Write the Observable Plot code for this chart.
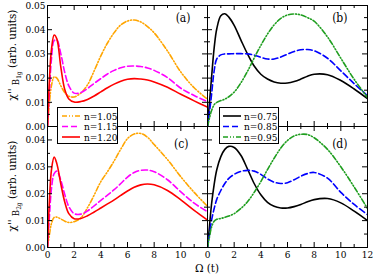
<!DOCTYPE html>
<html><head><meta charset="utf-8">
<script src="https://cdn.jsdelivr.net/npm/d3@7"></script>
<script src="https://cdn.jsdelivr.net/npm/@observablehq/plot@0.6"></script>
<style>
body{margin:0;background:#fff;}
#chart{position:relative;width:374px;height:274px;overflow:hidden;background:#fff;}
#chart svg{position:absolute;left:0;top:0;}
#chart svg text{font-stretch:condensed;}
</style></head><body><div id="chart"></div>
<script>
// ---- data ----
const omega = [0,0.15,0.3,0.5,0.7,1,1.3,1.6,2,2.5,3,3.5,4,4.5,5,5.5,6,6.5,7,7.5,8,9,10,11,12];

// B1g, panel (a)
const b1g_n105 = [0,0.010,0.017,0.0205,0.0200,0.0168,0.0140,0.0125,0.0122,0.0138,0.0172,0.0230,0.0292,0.0345,0.0388,0.0420,0.0436,0.0440,0.0432,0.0413,0.0387,0.0312,0.0225,0.0160,0.0113];
const b1g_n115 = [0,0.015,0.028,0.0355,0.0358,0.0300,0.0222,0.0168,0.0138,0.0140,0.0157,0.0178,0.0198,0.0217,0.0232,0.0243,0.0249,0.0250,0.0248,0.0242,0.0232,0.0202,0.0158,0.0128,0.0103];
const b1g_n120 = [0,0.020,0.032,0.0378,0.0362,0.0245,0.0152,0.0114,0.0101,0.0103,0.0112,0.0126,0.0143,0.0160,0.0175,0.0187,0.0195,0.0198,0.0196,0.0192,0.0184,0.0162,0.0133,0.0106,0.0080];
// B1g, panel (b)
const b1g_n075 = [0,0.010,0.020,0.0325,0.0405,0.0458,0.0466,0.0452,0.0418,0.0358,0.0300,0.0250,0.0216,0.0196,0.0184,0.0179,0.0180,0.0186,0.0196,0.0208,0.0216,0.0214,0.0190,0.0155,0.0115];
const b1g_n085 = [0,0.006,0.013,0.023,0.028,0.0296,0.0300,0.0300,0.0301,0.0301,0.0300,0.0295,0.0286,0.0279,0.0279,0.0287,0.0299,0.0310,0.0317,0.0318,0.0313,0.0282,0.0230,0.0177,0.0127];
const b1g_n095 = [0,0.0035,0.0065,0.0090,0.0100,0.0107,0.0113,0.0123,0.0142,0.0180,0.0228,0.0283,0.0335,0.0382,0.0420,0.0447,0.0461,0.0465,0.0461,0.0450,0.0435,0.0370,0.0282,0.0195,0.0120];
// B2g, panel (c)
const b2g_n105 = [0,0.005,0.009,0.0112,0.0113,0.0106,0.0098,0.0093,0.0096,0.0110,0.0148,0.0195,0.0245,0.0282,0.0322,0.0366,0.0405,0.0422,0.0424,0.0410,0.0383,0.0327,0.0263,0.0205,0.0153];
const b2g_n115 = [0,0.012,0.022,0.0275,0.0284,0.0250,0.0196,0.0152,0.0126,0.0124,0.0136,0.0155,0.0175,0.0195,0.0215,0.0238,0.0262,0.0279,0.0287,0.0288,0.0282,0.0252,0.0207,0.0165,0.0133];
const b2g_n120 = [0,0.018,0.029,0.0336,0.0312,0.0236,0.0168,0.0126,0.0107,0.0108,0.0118,0.0132,0.0147,0.0162,0.0177,0.0194,0.0210,0.0224,0.0233,0.0236,0.0233,0.0212,0.0177,0.0138,0.0102];
// B2g, panel (d)
const b2g_n075 = [0,0.008,0.016,0.0235,0.0290,0.0338,0.0365,0.0376,0.0372,0.0343,0.0292,0.0238,0.0196,0.0168,0.0153,0.0147,0.0147,0.0152,0.0160,0.0170,0.0178,0.0182,0.0166,0.0135,0.0100];
const b2g_n085 = [0,0.005,0.010,0.0145,0.0180,0.0212,0.0238,0.0257,0.0272,0.0283,0.0287,0.0284,0.0272,0.0255,0.0243,0.0238,0.0241,0.0252,0.0265,0.0275,0.0279,0.0258,0.0205,0.0160,0.0122];
const b2g_n095 = [0,0.004,0.0075,0.0098,0.0105,0.0108,0.0112,0.0117,0.0126,0.0145,0.0170,0.0205,0.0245,0.0290,0.0332,0.0370,0.0398,0.0415,0.0421,0.0420,0.0408,0.0365,0.0300,0.0225,0.0145];

const xMajorTicks = [0,2,4,6,8,10,12];
const xMinorTicks = [1,3,5,7,9,11];
const xLabelsLeft = [0,2,4,6,8,10];
const xLabelsRight = [0,2,4,6,8,10,12];
const yMajorTop = [0,0.01,0.02,0.03,0.04,0.05];
const yMinorTop = [0.005,0.015,0.025,0.035,0.045];
const yMajorBottom = [0,0.01,0.02,0.03,0.04];
const yMinorBottom = [0.005,0.015,0.025,0.035];
const legendLeft = ["n=1.05","n=1.15","n=1.20"];
const legendRight = ["n=0.75","n=0.85","n=0.95"];
const panelNames = ["(a)","(b)","(c)","(d)"];
const xTitle = "Ω (t)";

// ---- styles ----
const seriesStyle = {
  "n=1.05": {color:"#ffa500", dash:"5,2,1,2,1,2"},
  "n=1.15": {color:"#ff00ff", dash:"6,3"},
  "n=1.20": {color:"#ff0000", dash:null},
  "n=0.75": {color:"#000000", dash:null},
  "n=0.85": {color:"#0000ff", dash:"6,3"},
  "n=0.95": {color:"#1f9e1f", dash:"5,2,1,2,1,2"}
};
const SERIF = "DejaVu Serif Condensed, DejaVu Serif";
const W = 374, H = 274;

function panel(o) {
  const innerW = o.right - o.left, innerH = o.bottom - o.top;
  const marks = [];
  for (const s of o.series) {
    const data = omega.map((t,i)=>({t, v: s.values[i]}));
    const st = seriesStyle[s.label];
    marks.push(Plot.line(data, {x:"t", y:"v", stroke: st.color, strokeWidth:1.6,
      strokeDasharray: st.dash || undefined, curve:"catmull-rom", clip:true}));
  }
  const tk = {stroke:"black", strokeWidth:1};
  marks.push(Plot.tickX(xMajorTicks, {x:d=>d, insetTop: innerH-5, ...tk}));
  marks.push(Plot.tickX(xMajorTicks, {x:d=>d, insetBottom: innerH-5, ...tk}));
  marks.push(Plot.tickX(xMinorTicks, {x:d=>d, insetTop: innerH-3, ...tk}));
  marks.push(Plot.tickX(xMinorTicks, {x:d=>d, insetBottom: innerH-3, ...tk}));
  marks.push(Plot.tickY(o.yMajor, {y:d=>d, insetRight: innerW-5, ...tk}));
  marks.push(Plot.tickY(o.yMajor, {y:d=>d, insetLeft: innerW-5, ...tk}));
  marks.push(Plot.tickY(o.yMinor, {y:d=>d, insetRight: innerW-3, ...tk}));
  marks.push(Plot.tickY(o.yMinor, {y:d=>d, insetLeft: innerW-3, ...tk}));
  marks.push(Plot.frame({stroke:"black", strokeWidth:1}));
  if (o.yLabels) marks.push(Plot.text(o.yLabels, {y:d=>d, text:d=>d3.format(".2f")(d),
      frameAnchor:"left", textAnchor:"end", dx:-2, fontSize:10, fontFamily:SERIF, fill:"black"}));
  if (o.xLabels) marks.push(Plot.text(o.xLabels, {x:d=>d, text:d=>String(d),
      frameAnchor:"bottom", lineAnchor:"top", dy:3.5, fontSize:10, fontFamily:SERIF, fill:"black"}));
  marks.push(Plot.text([o.name], {text:d=>d, frameAnchor:"top-right", textAnchor:"end",
      lineAnchor:"top", dx:o.nameDx, dy:o.nameDy, fontSize:12, fontFamily:SERIF, fill:"black"}));
  return Plot.plot({
    width: W, height: H,
    marginLeft: o.left, marginRight: W - o.right, marginTop: o.top, marginBottom: H - o.bottom,
    x: {domain:[0,12], axis:null},
    y: {domain:[0,o.ymax], axis:null},
    style: {background:"transparent", fontFamily: SERIF, fontSize:"10px", color:"black", overflow:"visible"},
    marks
  });
}

const chart = document.getElementById("chart");
const panels = [
  {series:[{label:"n=1.05",values:b1g_n105},{label:"n=1.15",values:b1g_n115},{label:"n=1.20",values:b1g_n120}],
   left:47, right:207, top:5, bottom:126, ymax:0.05, yMajor:yMajorTop, yMinor:yMinorTop,
   yLabels:yMajorTop, xLabels:null, name:panelNames[0], nameDx:-17, nameDy:8},
  {series:[{label:"n=0.75",values:b1g_n075},{label:"n=0.85",values:b1g_n085},{label:"n=0.95",values:b1g_n095}],
   left:207, right:367, top:5, bottom:126, ymax:0.05, yMajor:yMajorTop, yMinor:yMinorTop,
   yLabels:null, xLabels:null, name:panelNames[1], nameDx:-20, nameDy:8},
  {series:[{label:"n=1.05",values:b2g_n105},{label:"n=1.15",values:b2g_n115},{label:"n=1.20",values:b2g_n120}],
   left:47, right:207, top:126, bottom:247, ymax:0.045, yMajor:yMajorBottom, yMinor:yMinorBottom,
   yLabels:yMajorBottom, xLabels:xLabelsLeft, name:panelNames[2], nameDx:-19, nameDy:13},
  {series:[{label:"n=0.75",values:b2g_n075},{label:"n=0.85",values:b2g_n085},{label:"n=0.95",values:b2g_n095}],
   left:207, right:367, top:126, bottom:247, ymax:0.045, yMajor:yMajorBottom, yMinor:yMinorBottom,
   yLabels:null, xLabels:xLabelsRight, name:panelNames[3], nameDx:-20, nameDy:13}
];
for (const p of panels) chart.appendChild(panel(p));

// ---- overlay: legends and axis titles ----
const svg = d3.select(chart).append("svg").attr("width", W).attr("height", H)
  .attr("font-family", SERIF).style("overflow","visible");

function legend(x, y, w, h, labels, lineX, textX, rowYs) {
  const g = svg.append("g");
  g.append("rect").attr("x", x+0.5).attr("y", y+0.5).attr("width", w).attr("height", h)
    .attr("fill","white").attr("stroke","black").attr("stroke-width",1);
  labels.forEach((lab,i)=>{
    const st = seriesStyle[lab];
    g.append("line").attr("x1", lineX).attr("x2", lineX+18).attr("y1", rowYs[i]).attr("y2", rowYs[i])
      .attr("stroke", st.color).attr("stroke-width",1.6).attr("stroke-dasharray", st.dash);
    g.append("text").attr("x", textX).attr("y", rowYs[i]+3.5).attr("font-family", SERIF)
      .attr("font-size",10).attr("fill","black").text(lab);
  });
}
legend(57, 107, 60, 36, legendLeft, 62, 84, [116, 126.5, 137]);
legend(219, 107, 59, 36, legendRight, 223, 244, [116, 126.5, 137]);

function yTitle(cx, cy, sub) {
  const t = svg.append("text").attr("transform", `translate(${cx},${cy}) rotate(-90)`)
    .attr("text-anchor","middle").attr("font-family", SERIF).attr("font-size",11.5).attr("fill","black");
  t.append("tspan").text("χ'' ");
  t.append("tspan").attr("dy",3).attr("font-size",9.5).text("B");
  t.append("tspan").attr("dy",2).attr("font-size",6.5).text(sub);
  t.append("tspan").attr("dy",-5).attr("font-size",11.5).text("\u00a0(arb. units)");
}
yTitle(16, 55, "1g");
yTitle(16, 186, "2g");

svg.append("text").attr("x",207).attr("y",271.5).attr("text-anchor","middle")
  .attr("font-family", SERIF).attr("font-size",11.5).attr("fill","black").text(xTitle);
</script></body></html>
